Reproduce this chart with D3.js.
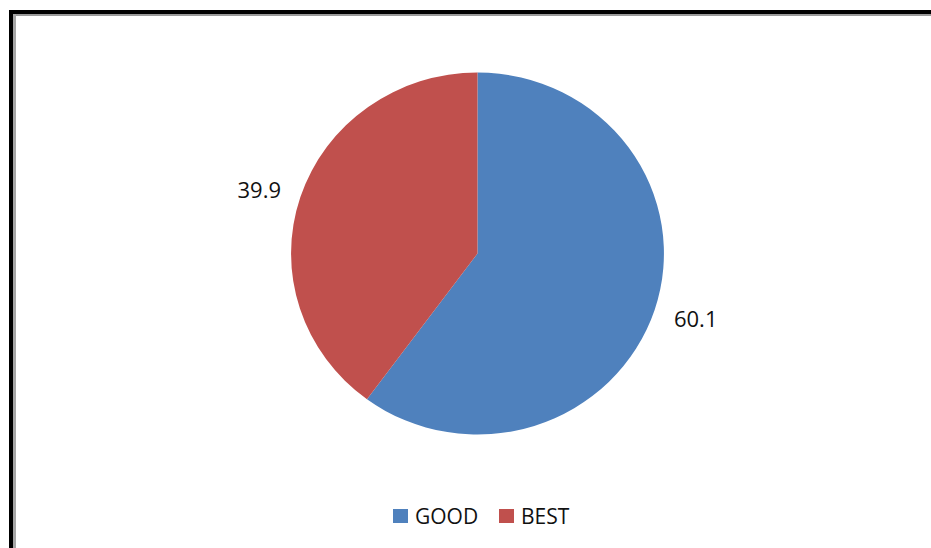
<!DOCTYPE html>
<html>
<head>
<meta charset="utf-8">
<script src="https://cdn.jsdelivr.net/npm/d3@7"></script>
<style>
  html, body { margin: 0; padding: 0; background: #fff; }
  svg { display: block; }
  text { font-family: "Open Sans", "DejaVu Sans", sans-serif; }
</style>
</head>
<body>
<svg id="chart" width="931" height="548"></svg>
<script>
// Shares of ratings
const categories = ["GOOD", "BEST"];
const values = [60.1, 39.9];
const colors = ["#4F81BD", "#C0504D"];
const valueLabels = ["60.1", "39.9"];

const W = 931, H = 548;
const svg = d3.select("#chart");

// Frame: black outer edge with a grey inner line, open at right and bottom
const frame = svg.append("g");
frame.append("rect").attr("x", 9).attr("y", 10).attr("width", W - 9).attr("height", 4).attr("fill", "#000");
frame.append("rect").attr("x", 9).attr("y", 10).attr("width", 4).attr("height", H - 10).attr("fill", "#000");
frame.append("rect").attr("x", 13).attr("y", 14).attr("width", W - 13).attr("height", 2).attr("fill", "#9a9a9a");
frame.append("rect").attr("x", 13).attr("y", 14).attr("width", 3).attr("height", H - 14).attr("fill", "#a6a6a6");

// Pie (slightly wider than tall)
const cx = 477.5, cy = 253.5, r = 181, sx = 1.03;
const pie = d3.pie().sort(null).value(d => d.value);
const data = categories.map((c, i) => ({ name: c, value: values[i], color: colors[i], label: valueLabels[i] }));
const arcs = pie(data);
const arc = d3.arc().innerRadius(0).outerRadius(r);
const labelArc = d3.arc().innerRadius(223).outerRadius(223);

const g = svg.append("g").attr("transform", `translate(${cx},${cy})`);
g.append("g").attr("transform", `scale(${sx},1)`)
  .selectAll("path").data(arcs).join("path")
  .attr("d", arc)
  .attr("fill", d => d.data.color);

// Value labels outside each slice
g.selectAll("text.val").data(arcs).join("text")
  .attr("class", "val")
  .attr("x", d => labelArc.centroid(d)[0] * sx)
  .attr("y", d => labelArc.centroid(d)[1] * 0.93)
  .attr("text-anchor", "middle")
  .attr("dominant-baseline", "central")
  .attr("font-size", 22)
  .attr("fill", "#111")
  .text(d => d.data.label);

// Legend
const legend = svg.append("g").attr("transform", "translate(393,516)");
const legendX = [0, 106];
const item = legend.selectAll("g").data(data).join("g")
  .attr("transform", (d, i) => `translate(${legendX[i]},0)`);
item.append("rect").attr("x", 0).attr("y", -7).attr("width", 15).attr("height", 14)
  .attr("fill", d => d.color);
item.append("text").attr("x", 22).attr("y", 0)
  .attr("dominant-baseline", "central")
  .attr("font-size", 21)
  .attr("fill", "#111")
  .text(d => d.name);
</script>
</body>
</html>
